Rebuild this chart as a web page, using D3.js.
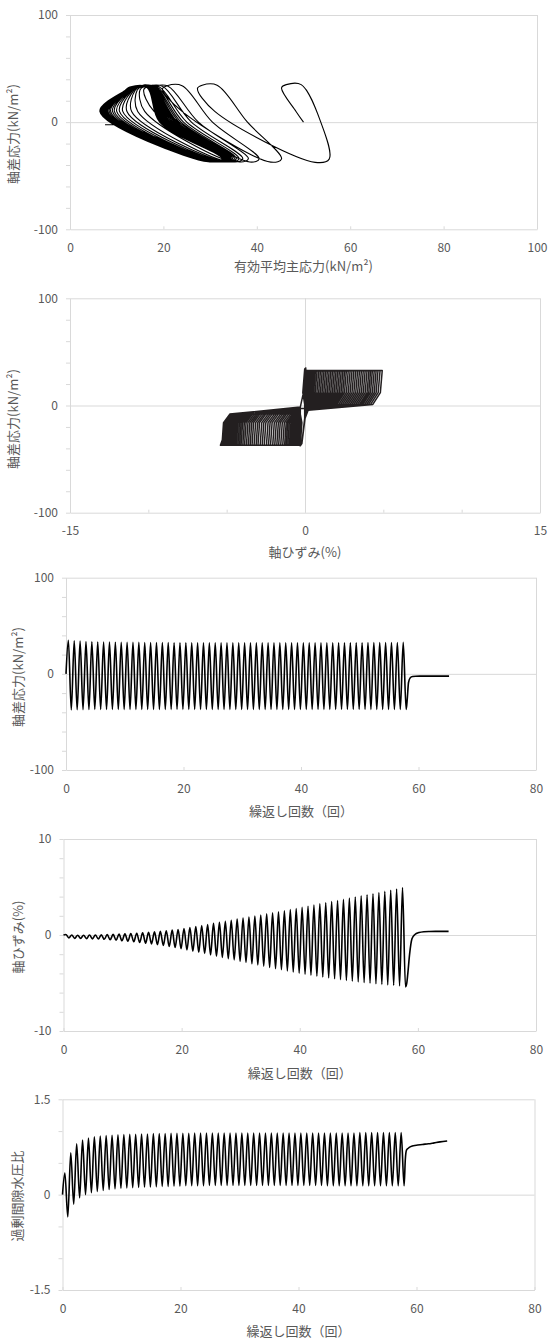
<!DOCTYPE html>
<html><head><meta charset="utf-8">
<script src="https://cdn.jsdelivr.net/npm/d3@7"></script>
<style>
body{margin:0;background:#fff}
svg{display:block}
text{font-family:"Noto Sans CJK JP","Noto Sans",sans-serif;fill:#595959}
</style>
</head><body>
<svg id="chart" width="550" height="1342"></svg>
<script>
// ---------------- DATA ----------------
const cycleNo = d3.range(1, 59);           // loading cycles 1..58
const peakOffset = 0.6, troughOffset = 0.1; // position of compression peak / extension trough inside a cycle

// deviator stress q (kN/m2) at each cycle's peak and trough
const qPeak = [35.0,34.5,34.0,33.6,33.4,33.2,33.0,33.0,32.9,32.8,
  32.8,32.7,32.7,32.6,32.6,32.5,32.5,32.5,32.4,32.4,
  32.4,32.3,32.3,32.3,32.3,32.2,32.2,32.2,32.2,32.2,
  32.2,32.2,32.2,32.2,32.2,32.2,32.2,32.2,32.2,32.2,
  32.3,32.3,32.3,32.3,32.3,32.3,32.4,32.4,32.4,32.4,
  32.4,32.5,32.5,32.5,32.5,32.6,32.6,32.7];
const qTrough = [-37.5,-37.3,-37.2,-37.1,-37.0,-37.0,-37.0,-37.0,-37.0,-37.0,
  -37.0,-37.0,-37.0,-37.0,-37.0,-37.0,-37.0,-37.0,-37.0,-37.0,
  -37.0,-37.0,-37.0,-37.0,-37.0,-37.0,-37.0,-37.0,-37.0,-37.0,
  -37.0,-37.0,-37.0,-37.0,-37.0,-37.0,-37.0,-37.0,-37.0,-37.0,
  -37.0,-37.0,-37.0,-37.0,-37.0,-37.0,-37.0,-37.0,-37.0,-37.0,
  -37.0,-37.0,-37.0,-37.0,-37.0,-37.0,-37.0,-37.0];

// axial strain (%) at each cycle's peak and trough
const strainPeak = [0.05,0.00,-0.02,-0.02,0.00,0.00,0.02,0.04,0.06,0.09,
  0.12,0.15,0.19,0.23,0.28,0.33,0.39,0.45,0.51,0.58,
  0.67,0.77,0.88,0.99,1.10,1.21,1.32,1.43,1.54,1.65,
  1.76,1.87,1.98,2.09,2.20,2.31,2.42,2.53,2.64,2.76,
  2.88,3.00,3.12,3.24,3.36,3.48,3.60,3.72,3.84,3.96,
  4.08,4.19,4.30,4.42,4.54,4.66,4.79,4.93];
const strainTrough = [-0.30,-0.35,-0.35,-0.38,-0.40,-0.42,-0.45,-0.50,-0.55,-0.60,
  -0.65,-0.70,-0.78,-0.85,-0.92,-1.00,-1.10,-1.20,-1.30,-1.42,
  -1.55,-1.68,-1.80,-1.93,-2.06,-2.20,-2.33,-2.46,-2.60,-2.73,
  -2.86,-3.00,-3.12,-3.25,-3.38,-3.50,-3.62,-3.74,-3.86,-3.97,
  -4.08,-4.18,-4.28,-4.38,-4.47,-4.56,-4.65,-4.73,-4.80,-4.88,
  -4.95,-5.02,-5.08,-5.14,-5.20,-5.25,-5.30,-5.40];

// excess pore water pressure ratio at each cycle's peak and trough
const ruPeak = [0.34,0.66,0.80,0.86,0.89,0.91,0.92,0.93,0.935,0.94,
  0.945,0.95,0.95,0.955,0.955,0.96,0.96,0.96,0.965,0.965,
  0.965,0.965,0.97,0.97,0.97,0.97,0.97,0.97,0.97,0.97,
  0.97,0.97,0.97,0.97,0.97,0.97,0.97,0.97,0.97,0.97,
  0.97,0.97,0.97,0.97,0.97,0.97,0.97,0.97,0.97,0.97,
  0.975,0.975,0.975,0.975,0.975,0.975,0.975,0.975];
const ruTrough = [-0.35,-0.15,-0.05,0.00,0.03,0.05,0.065,0.08,0.09,0.10,
  0.105,0.11,0.115,0.12,0.12,0.125,0.13,0.13,0.135,0.135,
  0.14,0.14,0.14,0.14,0.145,0.145,0.145,0.145,0.145,0.145,
  0.145,0.145,0.145,0.145,0.145,0.145,0.145,0.145,0.145,0.145,
  0.145,0.145,0.145,0.145,0.14,0.14,0.14,0.14,0.14,0.14,
  0.14,0.14,0.14,0.14,0.14,0.14,0.14,0.14];

// effective mean principal stress p' (kN/m2) at the corners of each stress-path loop
const pInitial = 50;
const kneeQ = 10, midQ = 0, nearTroughQ = 3, topLeftDrop = 3;   // q levels of the loop corners
const pKnee = [48.4,31.0,24.0,20.5,18.0,16.0,14.5,13.2,12.2,11.3,
  10.6,10.0,9.5,9.1,8.7,8.4,8.1,7.9,7.7,7.5,
  7.4,7.3,7.2,7.1,7.0,6.95,6.9,6.85,6.8,6.8,
  6.75,6.7,6.7,6.65,6.65,6.6,6.6,6.6,6.55,6.55,
  6.55,6.5,6.5,6.5,6.5,6.5,6.45,6.45,6.45,6.45,
  6.4,6.4,6.4,6.4,6.4,6.4,6.4,6.4];
const pTopLeft = [45.3,27.3,19.8,17.3,15.8,15.0,14.4,14.0,13.7,13.4,
  13.2,13.0,12.8,12.7,12.6,12.5,12.4,12.3,12.2,12.2,
  12.1,12.1,12.1,12.0,12.0,12.0,12.0,11.9,11.9,11.9,
  11.9,11.9,11.8,11.8,11.8,11.8,11.8,11.8,11.8,11.8,
  11.8,11.8,11.8,11.8,11.8,11.8,11.8,11.8,11.8,11.8,
  11.8,11.8,11.8,11.8,11.8,11.8,11.8,11.8];
const pTopRight = [49.5,31.5,24.0,21.0,19.8,19.0,18.6,18.3,18.1,17.9,
  17.8,17.7,17.6,17.5,17.4,17.3,17.3,17.2,17.2,17.1,
  17.1,17.0,17.0,17.0,16.9,16.9,16.9,16.9,16.8,16.8,
  16.8,16.8,16.8,16.7,16.7,16.7,16.7,16.7,16.7,16.6,
  16.6,16.6,16.6,16.6,16.6,16.6,16.6,16.5,16.5,16.5,
  16.5,16.5,16.5,16.5,16.5,16.5,16.5,16.5];
const pMid = [53.7,38.0,30.5,27.5,26.0,25.0,24.3,23.8,23.4,23.0,
  22.7,22.4,22.1,21.8,21.5,21.3,21.1,20.9,20.7,20.5,
  20.4,20.3,20.2,20.1,20.0,19.9,19.8,19.8,19.7,19.7,
  19.6,19.6,19.5,19.5,19.5,19.4,19.4,19.4,19.4,19.3,
  19.3,19.3,19.3,19.3,19.3,19.2,19.2,19.2,19.2,19.2,
  19.2,19.2,19.2,19.2,19.2,19.2,19.2,19.2];
const pRight = [55.5,45.3,40.5,38.2,37.0,36.2,35.6,35.2,34.8,34.5,
  34.3,34.1,33.9,33.8,33.7,33.6,33.5,33.4,33.3,33.2,
  33.2,33.1,33.1,33.0,33.0,33.0,32.9,32.9,32.9,32.9,
  32.8,32.8,32.8,32.8,32.8,32.8,32.8,32.8,32.8,32.8,
  32.7,32.7,32.7,32.7,32.7,32.7,32.7,32.7,32.7,32.7,
  32.6,32.6,32.6,32.6,32.6,32.6,32.6,32.6];
const pBottom = [52.5,43.0,38.5,36.3,35.0,34.0,33.3,32.8,32.4,32.0,
  31.7,31.5,31.3,31.1,31.0,30.9,30.8,30.7,30.6,30.5,
  30.4,30.3,30.2,30.2,30.1,30.1,30.0,30.0,29.9,29.9,
  29.9,29.8,29.8,29.8,29.8,29.7,29.7,29.7,29.7,29.7,
  29.6,29.6,29.6,29.6,29.6,29.6,29.6,29.6,29.6,29.6,
  29.6,29.6,29.6,29.6,29.6,29.6,29.6,29.6];

// knee points of one stress-strain loop (strain %, q kN/m2), relative to the cycle's extremes where noted
const loopKneeEps = [-0.12, -0.6, 0.2, 0.0, -0.2, -0.45, 0.1, 0.5, -0.3, -0.1, 0.0, 0.15];
const loopKneeQ   = [12, 1, -4.5, -12, 2, 0, -16, -8, -1.5, 12, -2, 0];

// after cyclic loading stops
const tailCycle  = [58.1, 58.3, 58.6, 59.0, 59.5, 60.2, 61.0, 62.0, 63.0, 64.0, 65.2];
const tailQ      = [-25, -9, -4, -2.8, -2.5, -2.4, -2.4, -2.4, -2.4, -2.4, -2.4];
const tailStrain = [-5.1, -4.0, -2.0, -0.4, 0.05, 0.25, 0.34, 0.37, 0.38, 0.38, 0.38];
const tailRu     = [0.55, 0.70, 0.73, 0.755, 0.77, 0.78, 0.79, 0.80, 0.815, 0.83, 0.845];
const tailP      = [24.0, 15.5, 12.0, 11.0, 10.2, 9.6, 9.0, 8.5, 8.0, 7.7, 7.5];

// axis ticks
const ticksQ = [-100, 0, 100], minorQ = d3.range(-100, 101, 20);
const ticksP = [0, 20, 40, 60, 80, 100];
const ticksEps = [-15, 0, 15], minorEps = d3.range(-15, 16, 5);
const ticksN = [0, 20, 40, 60, 80];
const ticksStrain = [-10, 0, 10], minorStrain = d3.range(-10, 11, 2);
const ticksRu = [-1.5, 0, 1.5], minorRu = [-1.5, -1, -0.5, 0, 0.5, 1, 1.5];

// ---------------- BUILD SERIES ----------------
const peakT = cycleNo.map(k => k - peakOffset);
const troughT = cycleNo.map(k => k - troughOffset);
function timeSeries(peaks, troughs, tail) {
  const pts = [[0, 0]];
  cycleNo.forEach((k, i) => { pts.push([peakT[i], peaks[i]]); pts.push([troughT[i], troughs[i]]); });
  tailCycle.forEach((t, j) => pts.push([t, tail[j]]));
  return pts;
}
const qSeries = timeSeries(qPeak, qTrough, tailQ);
const strainSeries = timeSeries(strainPeak, strainTrough, tailStrain);
const ruSeries = timeSeries(ruPeak, ruTrough, tailRu);

// effective stress path
const pathPts = [[pInitial, 0]];
cycleNo.forEach((k, i) => {
  pathPts.push([pKnee[i], kneeQ]);
  pathPts.push([pTopLeft[i], qPeak[i] - topLeftDrop]);
  pathPts.push([pTopLeft[i] + 1, qPeak[i]]);
  pathPts.push([pTopRight[i], qPeak[i]]);
  pathPts.push([pMid[i], midQ]);
  pathPts.push([pRight[i], qTrough[i] + nearTroughQ]);
  pathPts.push([pBottom[i], qTrough[i]]);
});
tailP.forEach((p, j) => pathPts.push([p, tailQ[j]]));

// stress-strain loops
const E = loopKneeEps, Q = loopKneeQ;
const clampTo = (lo, hi) => ([e, q]) => [Math.max(lo, Math.min(hi, e)), q];
const loopPts = [[0, 0]];
cycleNo.forEach((k, i) => {
  const ep = strainPeak[i], et = strainTrough[i], qp = qPeak[i], qt = qTrough[i];
  if (i > 0) {
    const etPrev = strainTrough[i - 1];
    [[etPrev + E[6], Q[6]], [Math.min(etPrev + E[7], E[8]), Q[7]], [E[8], Q[8]]]
      .map(clampTo(etPrev, ep)).forEach(p => loopPts.push(p));
  }
  [[E[9], Q[9]], [E[10], qp + Q[10]], [Math.min(E[11], ep), qp + Q[11]], [ep, qp]]
    .map(clampTo(i > 0 ? strainTrough[i - 1] : et, ep)).forEach(p => loopPts.push(p));
  [[ep + E[0], Q[0]], [Math.max(ep + E[1], E[2]), Q[1]], [E[2], Q[2]], [E[3], Q[3]],
   [E[4], qt + Q[4]], [Math.max(E[5], et), qt + Q[5]], [et, qt]]
    .map(clampTo(et, ep)).forEach(p => loopPts.push(p));
});
tailStrain.forEach((e, j) => loopPts.push([e, tailQ[j]]));

// ---------------- DRAW ----------------
const svg = d3.select('#chart');
const GRID = '#d9d9d9';
const fmt = d => String(d);

function drawPanel(o) {
  const x = d3.scaleLinear().domain(o.xDomain).range([o.left, o.right]);
  const y = d3.scaleLinear().domain(o.yDomain).range([o.bottom, o.top]);
  const g = svg.append('g');

  g.append('g').attr('transform', `translate(${o.left},0)`)
    .call(d3.axisLeft(y).tickValues([o.yDomain[1], 0]).tickSize(-(o.right - o.left)).tickFormat(''))
    .call(a => a.select('.domain').remove())
    .call(a => a.selectAll('line').attr('stroke', GRID));
  g.append('g').attr('transform', `translate(0,${o.bottom})`)
    .call(d3.axisBottom(x).tickValues(o.vGrid).tickSize(-(o.bottom - o.top)).tickFormat(''))
    .call(a => a.select('.domain').remove())
    .call(a => a.selectAll('line').attr('stroke', GRID));

  g.append('g').attr('transform', `translate(${o.left},0)`)
    .call(d3.axisLeft(y).tickValues(o.yMinor).tickSize(4).tickSizeOuter(0).tickPadding(8)
      .tickFormat(d => o.yTicks.includes(d) ? fmt(d) : ''))
    .call(a => a.select('.domain').attr('stroke', GRID))
    .call(a => a.selectAll('line').attr('stroke', GRID))
    .call(a => a.selectAll('text').attr('fill', '#595959').style('font-size', '12px'));
  g.append('g').attr('transform', `translate(0,${o.bottom})`)
    .call(d3.axisBottom(x).tickValues(o.xMinor).tickSize(-3).tickSizeOuter(0).tickPadding(14)
      .tickFormat(d => o.xTicks.includes(d) ? fmt(d) : ''))
    .call(a => a.select('.domain').attr('stroke', GRID))
    .call(a => a.selectAll('line').attr('stroke', GRID))
    .call(a => a.selectAll('text').attr('fill', '#595959').style('font-size', '12px'));

  g.append('text').attr('x', (o.left + o.right) / 2).attr('y', o.xTitleY)
    .attr('text-anchor', 'middle').style('font-size', '13px').text(o.xTitle);
  g.append('text').attr('transform', `translate(${o.yTitleX},${o.yTitleY}) rotate(-90)`)
    .attr('text-anchor', 'middle').attr('dy', '0.35em').style('font-size', '13px').text(o.yTitle);

  const line = d3.line().x(d => x(d[0])).y(d => y(d[1])).curve(o.curve);
  g.append('path').datum(o.data).attr('d', line)
    .attr('fill', 'none').attr('stroke', o.color).attr('stroke-width', o.width)
    .attr('stroke-linejoin', 'round');
}

drawPanel({ left: 70, right: 537, top: 15, bottom: 229.3,
  xDomain: [0, 100], yDomain: [-100, 100], xTicks: ticksP, xMinor: ticksP, yTicks: ticksQ, yMinor: minorQ,
  vGrid: [100], xTitle: '有効平均主応力(kN/m²)', xTitleY: 271, yTitle: '軸差応力(kN/m²)', yTitleX: 13, yTitleY: 134,
  data: pathPts, curve: d3.curveCatmullRom.alpha(0.5), color: '#000', width: 1.1 });

drawPanel({ left: 70, right: 540, top: 298.3, bottom: 512.7,
  xDomain: [-15, 15], yDomain: [-100, 100], xTicks: ticksEps, xMinor: minorEps, yTicks: ticksQ, yMinor: minorQ,
  vGrid: [0, 15], xTitle: '軸ひずみ(%)', xTitleY: 557, yTitle: '軸差応力(kN/m²)', yTitleX: 13, yTitleY: 419,
  data: loopPts, curve: d3.curveLinear, color: '#231f20', width: 1.5 });

drawPanel({ left: 66, right: 536, top: 577.7, bottom: 770,
  xDomain: [0, 80], yDomain: [-100, 100], xTicks: ticksN, xMinor: ticksN, yTicks: ticksQ, yMinor: minorQ,
  vGrid: [80], xTitle: '繰返し回数（回）', xTitleY: 816, yTitle: '軸差応力(kN/m²)', yTitleX: 18, yTitleY: 677,
  data: qSeries, curve: d3.curveMonotoneX, color: '#000', width: 1.6 });

drawPanel({ left: 63.5, right: 536, top: 839, bottom: 1031,
  xDomain: [0, 80], yDomain: [-10, 10], xTicks: ticksN, xMinor: ticksN, yTicks: ticksStrain, yMinor: minorStrain,
  vGrid: [80], xTitle: '繰返し回数（回）', xTitleY: 1078, yTitle: '軸ひずみ(%)', yTitleX: 18, yTitleY: 937,
  data: strainSeries, curve: d3.curveMonotoneX, color: '#000', width: 1.6 });

drawPanel({ left: 62.5, right: 534.5, top: 1099.3, bottom: 1290,
  xDomain: [0, 80], yDomain: [-1.5, 1.5], xTicks: ticksN, xMinor: ticksN, yTicks: ticksRu, yMinor: minorRu,
  vGrid: [80], xTitle: '繰返し回数（回）', xTitleY: 1336, yTitle: '過剰間隙水圧比', yTitleX: 17, yTitleY: 1196,
  data: ruSeries, curve: d3.curveMonotoneX, color: '#000', width: 1.6 });
</script>
</body></html>
